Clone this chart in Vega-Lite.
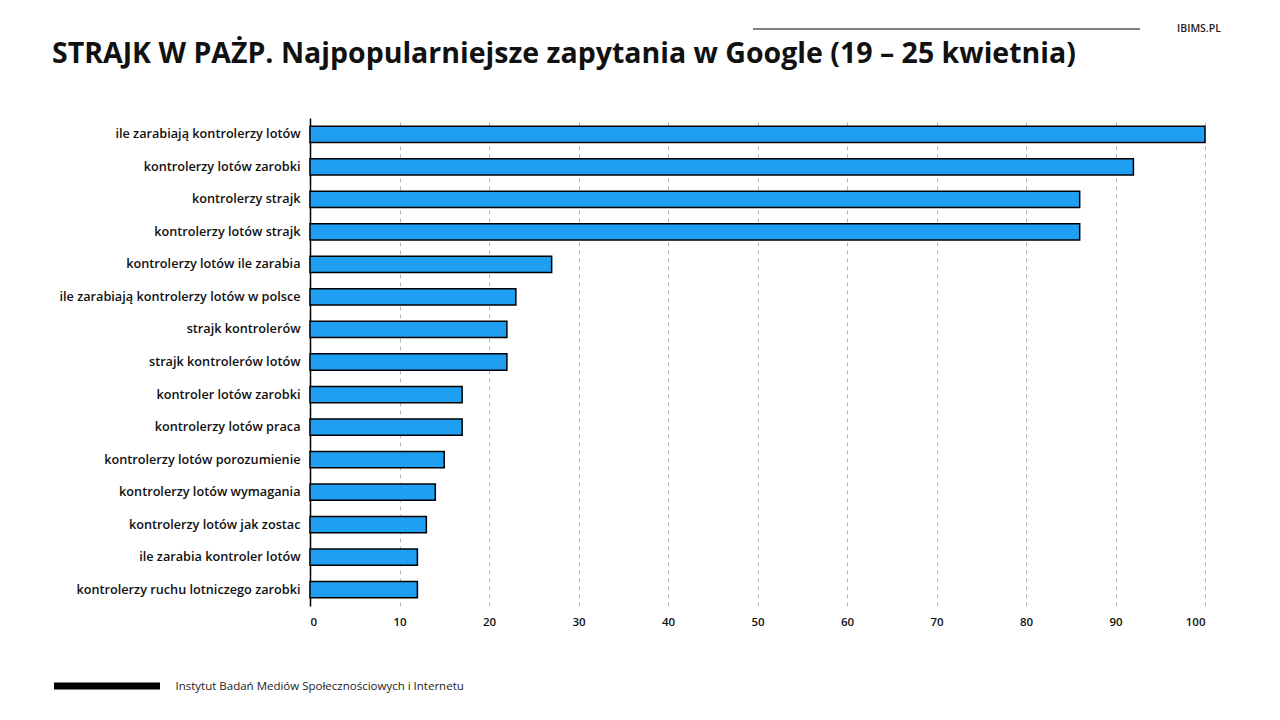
{
  "$schema": "https://vega.github.io/schema/vega-lite/v6.json",
  "autosize": {"type": "none"},
  "width": 895,
  "height": 488,
  "padding": {"left": 310, "top": 118, "right": 75, "bottom": 114},
  "background": "white",
  "config": {"view": {"stroke": null}, "font": "Open Sans"},
  "title": {
    "text": "STRAJK W PAŻP. Najpopularniejsze zapytania w Google (19 – 25 kwietnia)",
    "anchor": "start",
    "frame": "group",
    "dx": -258,
    "offset": -67,
    "baseline": "alphabetic",
    "font": "Open Sans",
    "fontSize": 28.5,
    "fontWeight": "bold",
    "color": "#111111"
  },
  "data": {
    "values": [
      {"query": "ile zarabiają kontrolerzy lotów", "value": 100},
      {"query": "kontrolerzy lotów zarobki", "value": 92},
      {"query": "kontrolerzy strajk", "value": 86},
      {"query": "kontrolerzy lotów strajk", "value": 86},
      {"query": "kontrolerzy lotów ile zarabia", "value": 27},
      {"query": "ile zarabiają kontrolerzy lotów w polsce", "value": 23},
      {"query": "strajk kontrolerów", "value": 22},
      {"query": "strajk kontrolerów lotów", "value": 22},
      {"query": "kontroler lotów zarobki", "value": 17},
      {"query": "kontrolerzy lotów praca", "value": 17},
      {"query": "kontrolerzy lotów porozumienie", "value": 15},
      {"query": "kontrolerzy lotów wymagania", "value": 14},
      {"query": "kontrolerzy lotów jak zostac", "value": 13},
      {"query": "ile zarabia kontroler lotów", "value": 12},
      {"query": "kontrolerzy ruchu lotniczego zarobki", "value": 12}
    ]
  },
  "layer": [
    {
      "mark": {"type": "bar", "fill": "#1F9FF2", "stroke": "#000000", "strokeWidth": 1.5},
      "encoding": {
        "y": {
          "field": "query",
          "type": "nominal",
          "sort": null,
          "scale": {"paddingInner": 0.5, "paddingOuter": 0.25},
          "axis": {
            "title": null,
            "domain": true,
            "domainColor": "#000000",
            "domainWidth": 1.5,
            "ticks": false,
            "labelPadding": 10,
            "labelFont": "Open Sans",
            "labelFontSize": 12.7,
            "labelFontWeight": 600,
            "labelColor": "#111111",
            "labelLimit": 300
          }
        },
        "x": {
          "field": "value",
          "type": "quantitative",
          "scale": {"domain": [0, 100], "nice": false},
          "axis": {
            "values": [0, 10, 20, 30, 40, 50, 60, 70, 80, 90, 100],
            "domain": false,
            "ticks": false,
            "grid": true,
            "gridDash": [4, 4],
            "gridColor": "#b5b5b5",
            "gridWidth": 1,
            "labelPadding": 10,
            "labelFont": "Open Sans",
            "labelFontSize": 11.5,
            "labelFontWeight": 600,
            "labelColor": "#111111",
            "title": "Instytut Badań Mediów Społecznościowych i Internetu",
            "titleX": -135,
            "titleY": 80,
            "titleAlign": "left",
            "titleBaseline": "middle",
            "titleFont": "Open Sans",
            "titleFontSize": 11.5,
            "titleFontWeight": "normal",
            "titleColor": "#222222"
          }
        }
      }
    },
    {
      "data": {"values": [{}]},
      "mark": {"type": "rule", "stroke": "#000000", "strokeWidth": 7, "clip": false},
      "encoding": {
        "x": {"value": -256},
        "x2": {"value": -150},
        "y": {"value": 568}
      }
    },
    {
      "data": {"values": [{}]},
      "mark": {"type": "rule", "stroke": "#000000", "strokeWidth": 1, "clip": false},
      "encoding": {
        "x": {"value": 443},
        "x2": {"value": 830},
        "y": {"value": -89}
      }
    },
    {
      "data": {"values": [{"t": "IBIMS.PL"}]},
      "mark": {"type": "text", "align": "center", "baseline": "middle", "fontSize": 10.5, "font": "Open Sans", "fontWeight": 600, "color": "#222222", "clip": false},
      "encoding": {
        "text": {"field": "t"},
        "x": {"value": 889},
        "y": {"value": -89}
      }
    }
  ]
}
